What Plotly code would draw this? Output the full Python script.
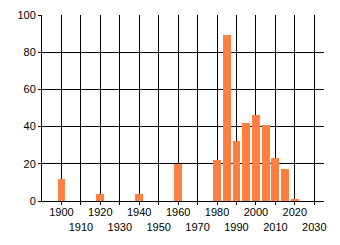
import plotly.graph_objects as go

years = [1900, 1920, 1940, 1960, 1980, 1985, 1990, 1995, 2000, 2005, 2010, 2015, 2020]
counts = [12, 4, 4, 20, 22, 89, 32, 42, 46, 41, 23, 17, 1]

x_tick_vals = list(range(1900, 2031, 10))
x_tick_text = [str(v) if (v // 10) % 2 == 0 else "<br>" + str(v) for v in x_tick_vals]
y_tick_vals = [0, 20, 40, 60, 80, 100]

fig = go.Figure()
fig.add_trace(go.Bar(x=years, y=counts, width=4, marker=dict(color="#FF7F40", line=dict(width=0))))

fig.update_layout(
    width=340, height=245,
    margin=dict(l=42, r=16, t=15, b=44, autoexpand=False),
    plot_bgcolor="white", paper_bgcolor="white",
    showlegend=False,
    font=dict(family="Liberation Sans", size=11, color="black"),
    bargap=0,
)
fig.update_xaxes(
    range=[1890, 2035], tickvals=x_tick_vals, ticktext=x_tick_text, tickangle=0,
    showgrid=True, gridcolor="black", gridwidth=1,
    showline=True, linecolor="black", linewidth=1,
    ticks="outside", ticklen=3, tickcolor="black", zeroline=False,
    ticklabelstandoff=-2,
)
fig.update_yaxes(
    range=[0, 100], tickvals=y_tick_vals,
    showgrid=True, gridcolor="black", gridwidth=1,
    showline=True, linecolor="black", linewidth=1,
    ticks="outside", ticklen=3, tickcolor="black", zeroline=False,
)
fig.write_html("out.html")
